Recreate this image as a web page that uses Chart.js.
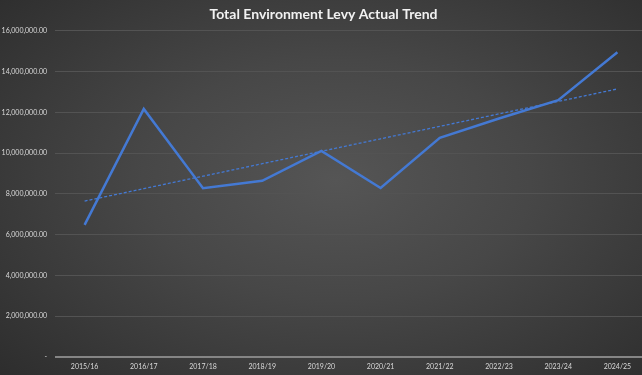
<!DOCTYPE html>
<html>
<head>
<meta charset="utf-8">
<script src="https://cdn.jsdelivr.net/npm/chart.js@4"></script>
<style>
  html, body { margin: 0; padding: 0; overflow: hidden; background: #2a2a2a; }
  #wrap {
    width: 647px; height: 375px;
    background: radial-gradient(ellipse 75% 80% at 52% 48%, #555555 0%, #474747 40%, #2b2b2b 100%);
  }
</style>
</head>
<body>
<div id="wrap"><canvas id="myChart" width="647" height="375"></canvas></div>
<script>
// 카테고리 (회계연도)
const years = ['2015/16', '2016/17', '2017/18', '2018/19', '2019/20',
               '2020/21', '2021/22', '2022/23', '2023/24', '2024/25'];

// 실제 환경부담금
const levyActual = [6480000, 12170000, 8280000, 8640000, 10110000,
                    8290000, 10750000, 11700000, 12600000, 14950000];

// y축 눈금
const yTicks = [0, 2000000, 4000000, 6000000, 8000000, 10000000, 12000000, 14000000, 16000000];

// 선형 추세선 (엑셀 trendline 처럼 최소제곱)
function linearTrend(vals) {
    const n = vals.length;
    const mx = (n - 1) / 2;
    const my = vals.reduce((a, b) => a + b, 0) / n;
    let sxy = 0, sxx = 0;
    vals.forEach((v, i) => { sxy += (i - mx) * (v - my); sxx += (i - mx) * (i - mx); });
    const slope = sxy / sxx;
    return vals.map((v, i) => my + slope * (i - mx));
}

const chartCanvas = document.getElementById('myChart');
const tickFont = { family: 'Lato', size: 7 };

new Chart(chartCanvas, {
    type: 'line',
    data: {
        labels: years,
        datasets: [{
            label: 'Actual',
            data: levyActual,
            borderColor: '#4479d3',
            borderWidth: 2.5,
            pointRadius: 0,
            tension: 0
        }, {
            label: 'Trend',
            data: linearTrend(levyActual),
            borderColor: '#4479d3',
            borderWidth: 1.3,
            borderDash: [3, 2],
            pointRadius: 0,
            tension: 0
        }]
    },
    options: {
        responsive: false,
        animation: false,
        layout: { padding: { left: 0, right: 0, top: 0, bottom: 0 } },
        plugins: {
            legend: { display: false },
            tooltip: { enabled: false },
            title: {
                display: true,
                text: 'Total Environment Levy Actual Trend',
                color: '#f2f2f2',
                font: { family: 'Lato', size: 14, weight: 'bold' },
                padding: { top: 6, bottom: 8 }
            }
        },
        scales: {
            x: {
                offset: true,
                grid: { display: false, drawTicks: false },
                border: { display: false },
                ticks: { color: '#d9d9d9', font: tickFont, padding: 6, maxRotation: 0 },
                afterFit: s => { s.height = 18; }
            },
            y: {
                min: 0,
                max: 16000000,
                afterBuildTicks: s => { s.ticks = yTicks.map(v => ({ value: v })); },
                grid: {
                    color: ctx => ctx.tick.value === 0 ? '#858585' : '#535353',
                    lineWidth: ctx => ctx.tick.value === 0 ? 2 : 1,
                    drawTicks: false
                },
                border: { display: false },
                ticks: {
                    color: '#d9d9d9',
                    font: tickFont,
                    padding: 8,
                    callback: v => v === 0 ? '-' : v.toLocaleString('en-US', { minimumFractionDigits: 2 })
                },
                afterFit: s => { s.width = 55; }
            }
        }
    }
});
</script>
</body>
</html>
